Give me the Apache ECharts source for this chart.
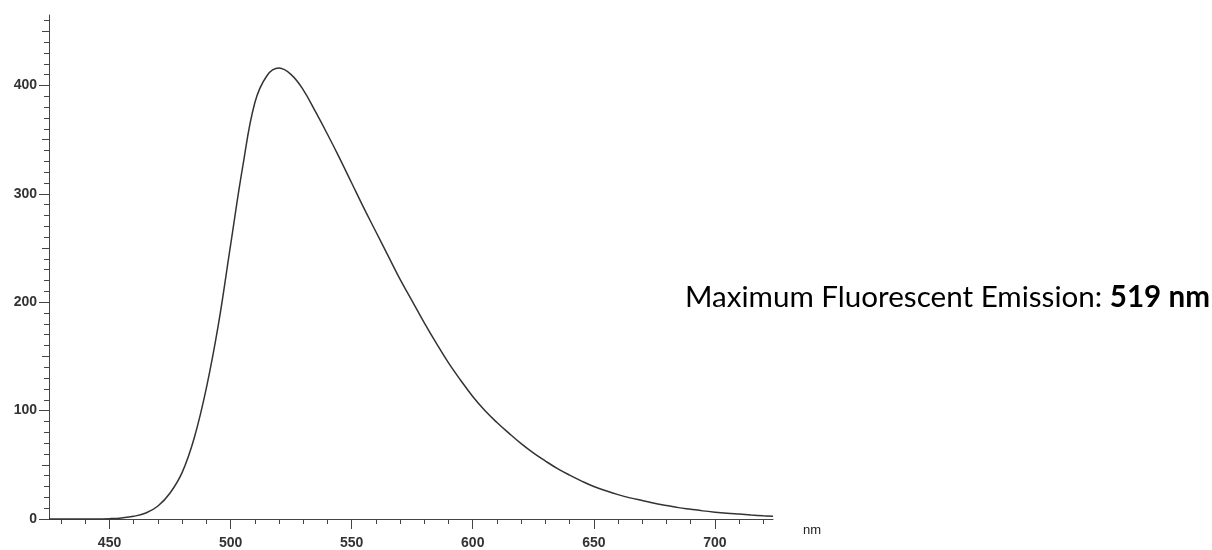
<!DOCTYPE html>
<html>
<head>
<meta charset="utf-8">
<script src="https://cdn.jsdelivr.net/npm/echarts@6/dist/echarts.min.js"></script>
<style>
html,body{margin:0;padding:0;background:#fff;}
#c{width:1212px;height:550px;}
</style>
</head>
<body>
<div id="c"></div>
<script>
// Data
const wavelengths = [425,430,435,440,445,450,455,460,465,470,475,480,485,490,495,500,505,510,515,520,525,530,535,540,545,550,555,560,565,570,575,580,585,590,595,600,605,610,615,620,625,630,635,640,645,650,655,660,665,670,675,680,685,690,695,700,705,710,715,720,724];
const intensity   = [0,0,0,0,0,0.3,1,2.5,5.5,12,24,43,75,121,180,253,325,384,409,416,410,396,376,355,333,310,287,265,243,221,201,181,162,144,128,113,100,89,79,69.5,61,53.5,46.5,40.5,35,30,26,22.5,19.5,17,14.5,12.5,10.5,9,7.5,6.3,5.3,4.5,3.7,3,2.5];
const xLabelValues = [450,500,550,600,650,700];
const xMinorTicks = [430,440,450,460,470,480,490,500,510,520,530,540,550,560,570,580,590,600,610,620,630,640,650,660,670,680,690,700,710,720];
const yLabelValues = [0,100,200,300,400];
const yMidTicks = [50,150,250,350,450];
const yMinorTicks = [];
for (let v = 0; v <= 460; v += 10) yMinorTicks.push(v);
const xUnit = 'nm';
const noteText = 'Maximum Fluorescent Emission: ';
const noteValue = '519 nm';

const seriesData = wavelengths.map((w, i) => [w, intensity[i]]);

const chart = echarts.init(document.getElementById('c'));
const labelFont = {fontFamily: 'Liberation Sans, Arial, sans-serif', fontSize: 14, fontWeight: 'bold', color: '#333'};
const axisCol = '#444';
const xBase = {type: 'value', min: 425, max: 724, gridIndex: 0, position: 'bottom', splitLine: {show: false}};
const yBase = {type: 'value', min: 0, max: 465, gridIndex: 0, position: 'left', splitLine: {show: false}};
chart.setOption({
  animation: false,
  backgroundColor: '#fff',
  grid: {left: 49, right: 439, top: 15, bottom: 30.5, containLabel: false},
  xAxis: [
    Object.assign({}, xBase, {
      name: xUnit, nameLocation: 'end', nameGap: 30,
      nameTextStyle: {fontFamily: 'Liberation Sans, Arial, sans-serif', fontSize: 13, color: '#222', verticalAlign: 'top', padding: [5,0,0,0]},
      axisLine: {show: true, lineStyle: {color: axisCol, width: 1}},
      axisTick: {show: true, customValues: xMinorTicks, length: 5, lineStyle: {color: axisCol}},
      axisLabel: {show: false}
    }),
    Object.assign({}, xBase, {
      axisLine: {show: false},
      axisTick: {show: true, customValues: xLabelValues, length: 10, lineStyle: {color: axisCol}},
      axisLabel: Object.assign({show: true, customValues: xLabelValues, margin: 17}, labelFont)
    })
  ],
  yAxis: [
    Object.assign({}, yBase, {
      axisLine: {show: true, lineStyle: {color: axisCol, width: 1}},
      axisTick: {show: true, customValues: yMinorTicks, length: 5, lineStyle: {color: axisCol}},
      axisLabel: {show: false}
    }),
    Object.assign({}, yBase, {
      axisLine: {show: false},
      axisTick: {show: true, customValues: yMidTicks, length: 7, lineStyle: {color: axisCol}},
      axisLabel: {show: false}
    }),
    Object.assign({}, yBase, {
      axisLine: {show: false},
      axisTick: {show: true, customValues: yLabelValues, length: 10, lineStyle: {color: axisCol}},
      axisLabel: Object.assign({show: true, customValues: yLabelValues, margin: 12}, labelFont)
    })
  ],
  series: [{
    type: 'line',
    xAxisIndex: 0,
    yAxisIndex: 0,
    data: seriesData,
    smooth: 0.4,
    showSymbol: false,
    lineStyle: {color: '#333', width: 1.5}
  }],
  graphic: [{
    type: 'text',
    left: 685,
    top: 282,
    style: {
      text: '{n|' + noteText + '}{b|' + noteValue + '}',
      rich: {
        n: {fontFamily: 'Lato, sans-serif', fontSize: 29.6, color: '#111'},
        b: {fontFamily: 'Lato, sans-serif', fontSize: 29.6, fontWeight: 'bold', color: '#111'}
      }
    }
  }]
});
</script>
</body>
</html>
